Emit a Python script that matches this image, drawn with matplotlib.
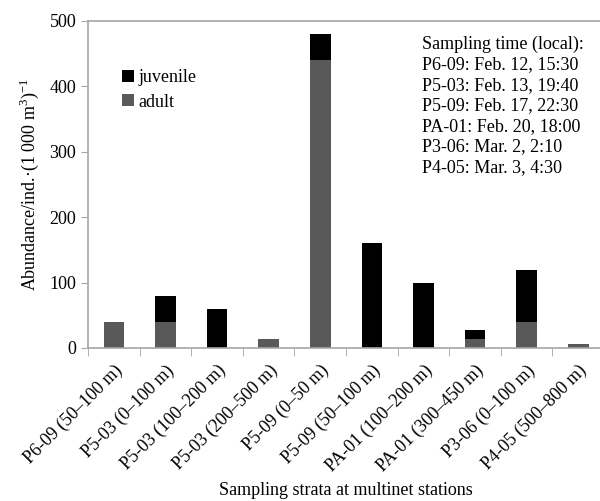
import numpy as np
import matplotlib
matplotlib.use('Agg')
import matplotlib.pyplot as plt

plt.rcParams['font.family'] = ['Liberation Serif', 'DejaVu Serif']
plt.rcParams['mathtext.fontset'] = 'custom'
plt.rcParams['mathtext.rm'] = 'Liberation Serif'

strata = ['P6-09 (50–100 m)', 'P5-03 (0–100 m)', 'P5-03 (100–200 m)',
          'P5-03 (200–500 m)', 'P5-09 (0–50 m)', 'P5-09 (50–100 m)',
          'PA-01 (100–200 m)', 'PA-01 (300–450 m)', 'P3-06 (0–100 m)',
          'P4-05 (500–800 m)']
adult = [40, 40, 0, 13, 440, 0, 0, 13, 40, 6]
juvenile = [0, 40, 60, 0, 40, 160, 100, 14, 80, 0]
times = ['Sampling time (local):',
         'P6-09: Feb. 12, 15:30',
         'P5-03: Feb. 13, 19:40',
         'P5-09: Feb. 17, 22:30',
         'PA-01: Feb. 20, 18:00',
         'P3-06: Mar. 2, 2:10',
         'P4-05: Mar. 3, 4:30']

axcol = '#a6a6a6'
fs = 13
fig = plt.figure(figsize=(6, 5.01), dpi=100)
ax = fig.add_axes([0.1467, 0.3054, 0.86, 0.6527])

x = np.arange(len(strata))
ax.bar(x, adult, width=0.4, color='#595959', label='adult')
ax.bar(x, juvenile, width=0.4, bottom=adult, color='black', label='juvenile')

ax.set_xlim(-0.5, len(strata) - 0.5)
ax.set_ylim(0, 500)
ax.set_yticks([0, 100, 200, 300, 400, 500])
ax.set_xticks(x)
ax.set_xticklabels(strata, rotation=45, ha='right', rotation_mode='anchor')
ax.set_xticks(np.arange(-0.5, len(strata), 1), minor=True)
ax.tick_params(axis='x', which='major', length=0, labelsize=fs, pad=10)
ax.tick_params(axis='x', which='minor', length=6, color=axcol, direction='out')
ax.tick_params(axis='y', length=5, color=axcol, labelsize=fs)

for s in ['left', 'bottom', 'top']:
    ax.spines[s].set_color(axcol)
    ax.spines[s].set_linewidth(1.2)
ax.spines['right'].set_visible(False)

ax.set_ylabel('Abundance/ind.·(1 000 m$^3$)$^{-1}$', fontsize=fs, labelpad=6)
ax.set_xlabel('Sampling strata at multinet stations', fontsize=fs, labelpad=5)

h, l = ax.get_legend_handles_labels()
ax.legend(h[::-1], l[::-1], loc='upper left', bbox_to_anchor=(0.052, 0.875),
          frameon=False, fontsize=fs, handlelength=0.65, handleheight=0.65,
          handletextpad=0.25, labelspacing=0.42, borderaxespad=0)

ax.text(0.648, 0.955, '\n'.join(times), transform=ax.transAxes, va='top',
        ha='left', fontsize=fs, linespacing=1.27)

fig.savefig('out.png', dpi=100)
